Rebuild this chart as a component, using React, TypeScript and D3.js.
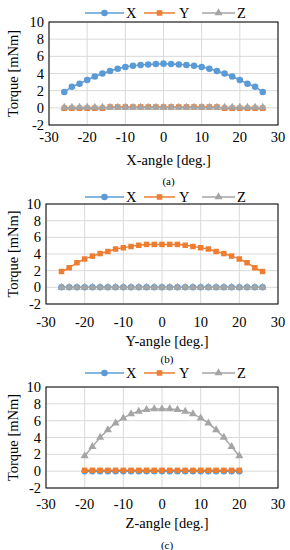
import React, { useEffect, useRef } from 'react'
import * as d3 from 'd3'

// angles
const anglesAB = d3.range(-26, 27, 2)
const anglesC = d3.range(-20, 21, 2)

// (a) X-angle sweep
const aX = [1.85, 2.45, 2.8, 3.25, 3.65, 4.0, 4.3, 4.55, 4.75, 4.9, 5.0, 5.05, 5.1, 5.15, 5.1, 5.05, 5.0, 4.9, 4.75, 4.55, 4.3, 4.0, 3.65, 3.25, 2.8, 2.45, 1.85]
const aY = [-0.05, -0.05, -0.05, -0.05, -0.05, -0.05, 0.1, 0.1, 0.1, 0.1, 0.1, 0.1, 0.1, 0.1, 0.1, 0.1, 0.1, 0.1, 0.1, 0.1, 0.1, -0.05, -0.05, -0.05, -0.05, -0.05, -0.05]
const aZ = [0.05, 0.05, 0.05, 0.05, 0.05, 0.05, 0.05, 0.05, 0.05, 0.05, 0.05, 0.05, 0.05, 0.05, 0.05, 0.05, 0.05, 0.05, 0.05, 0.05, 0.05, 0.05, 0.05, 0.05, 0.05, 0.05, 0.05]

// (b) Y-angle sweep
const bX = [0, 0, 0, 0, 0, 0, 0, 0, 0, 0, 0, 0, 0, 0, 0, 0, 0, 0, 0, 0, 0, 0, 0, 0, 0, 0, 0]
const bY = [1.9, 2.35, 2.95, 3.4, 3.75, 4.05, 4.3, 4.6, 4.75, 4.9, 5.05, 5.15, 5.15, 5.15, 5.15, 5.15, 5.05, 4.9, 4.75, 4.6, 4.3, 4.05, 3.75, 3.4, 2.95, 2.35, 1.9]
const bZ = [0, 0, 0, 0, 0, 0, 0, 0, 0, 0, 0, 0, 0, 0, 0, 0, 0, 0, 0, 0, 0, 0, 0, 0, 0, 0, 0]

// (c) Z-angle sweep
const cX = [0, 0, 0, 0, 0, 0, 0, 0, 0, 0, 0, 0, 0, 0, 0, 0, 0, 0, 0, 0, 0]
const cY = [0.1, 0.1, 0.1, 0.1, 0.1, 0.1, 0.1, 0.1, 0.1, 0.1, 0.1, 0.1, 0.1, 0.1, 0.1, 0.1, 0.1, 0.1, 0.1, 0.1, 0.1]
const cZ = [1.8, 2.9, 4.0, 4.9, 5.7, 6.3, 6.8, 7.1, 7.3, 7.4, 7.4, 7.4, 7.3, 7.1, 6.8, 6.3, 5.7, 4.9, 4.0, 2.9, 1.8]

const seriesNames = ['X', 'Y', 'Z']
const xTicks = [-30, -20, -10, 0, 10, 20, 30]
const yTicks = [-2, 0, 2, 4, 6, 8, 10]

const colors = ['#5B9BD5', '#ED7D31', '#A5A5A5']
const symbols = [d3.symbolCircle, d3.symbolSquare, d3.symbolTriangle]
const symSizes = [34, 30, 28]
const font = '"Liberation Serif", "Times New Roman", serif'
const fs = 14.5

const panels = [
  { angles: anglesAB, series: [aX, aY, aZ], title: 'X-angle [deg.]', cap: '(a)',
    top: 22, bottom: 125, left: 49, right: 278, legendY: 13, tickY: 137, titleY: 160, capY: 181 },
  { angles: anglesAB, series: [bX, bY, bZ], title: 'Y-angle [deg.]', cap: '(b)',
    top: 204, bottom: 304, left: 46, right: 278, legendY: 197, tickY: 322, titleY: 341, capY: 359 },
  { angles: anglesC, series: [cX, cY, cZ], title: 'Z-angle [deg.]', cap: '(c)',
    top: 387, bottom: 488, left: 46, right: 278, legendY: 373, tickY: 504, titleY: 523, capY: 545 },
]

export default function App() {
  const ref = useRef<SVGSVGElement>(null)

  useEffect(() => {
    const svg = d3.select(ref.current)
    svg.selectAll('*').remove()

    panels.forEach(p => {
      const x = d3.scaleLinear().domain([-30, 30]).range([p.left, p.right])
      const y = d3.scaleLinear().domain([-2, 10]).range([p.bottom, p.top])
      const g = svg.append('g')

      // grid
      g.selectAll('.hg').data(yTicks).enter().append('line')
        .attr('x1', p.left).attr('x2', p.right)
        .attr('y1', d => y(d)).attr('y2', d => y(d))
        .attr('stroke', '#D9D9D9').attr('stroke-width', 1)
      g.selectAll('.vg').data(xTicks).enter().append('line')
        .attr('y1', p.top).attr('y2', p.bottom)
        .attr('x1', d => x(d)).attr('x2', d => x(d))
        .attr('stroke', '#D9D9D9').attr('stroke-width', 1)

      g.append('rect')
        .attr('x', p.left).attr('y', p.top)
        .attr('width', p.right - p.left).attr('height', p.bottom - p.top)
        .attr('fill', 'none').attr('stroke', '#000').attr('stroke-width', 1)

      // tick labels
      g.selectAll('.yt').data(yTicks).enter().append('text')
        .attr('x', p.left - 5).attr('y', d => y(d)).attr('dy', '0.35em')
        .attr('text-anchor', 'end').attr('font-family', font).attr('font-size', fs)
        .text(d => d)
      g.selectAll('.xt').data(xTicks).enter().append('text')
        .attr('x', d => x(d)).attr('y', p.tickY).attr('dy', '0.35em')
        .attr('text-anchor', 'middle').attr('font-family', font).attr('font-size', fs)
        .text(d => d)

      g.append('text')
        .attr('x', (p.left + p.right) / 2 + 5).attr('y', p.titleY).attr('dy', '0.35em')
        .attr('text-anchor', 'middle').attr('font-family', font).attr('font-size', fs)
        .text(p.title)
      g.append('text')
        .attr('x', (p.left + p.right) / 2 + 5).attr('y', p.capY).attr('dy', '0.35em')
        .attr('text-anchor', 'middle').attr('font-family', font).attr('font-size', 11)
        .text(p.cap)
      g.append('text')
        .attr('transform', 'translate(13,' + (p.top + p.bottom) / 2 + ') rotate(-90)')
        .attr('dy', '0.35em')
        .attr('text-anchor', 'middle').attr('font-family', font).attr('font-size', fs)
        .text('Torque [mNm]')

      // series
      const line = d3.line<number>()
        .x((d, i) => x(p.angles[i]))
        .y(d => y(d))
        .curve(d3.curveMonotoneX)
      p.series.forEach((s, k) => {
        g.append('path').datum(s)
          .attr('d', line).attr('fill', 'none')
          .attr('stroke', colors[k]).attr('stroke-width', 1.5)
        g.selectAll('.m' + k).data(s).enter().append('path')
          .attr('d', d3.symbol().type(symbols[k]).size(symSizes[k])())
          .attr('transform', (d, i) => 'translate(' + x(p.angles[i]) + ',' + y(d) + ')')
          .attr('fill', colors[k])
      })

      // legend
      const legX = [[85, 124, 126], [144, 175, 179], [202, 235, 237]]
      seriesNames.forEach((n, k) => {
        const [x1, x2, tx] = legX[k]
        g.append('line').attr('x1', x1).attr('x2', x2)
          .attr('y1', p.legendY).attr('y2', p.legendY)
          .attr('stroke', colors[k]).attr('stroke-width', 1.5)
        g.append('path')
          .attr('d', d3.symbol().type(symbols[k]).size(symSizes[k])())
          .attr('transform', 'translate(' + (x1 + x2) / 2 + ',' + p.legendY + ')')
          .attr('fill', colors[k])
        g.append('text').attr('x', tx).attr('y', p.legendY).attr('dy', '0.35em')
          .attr('font-family', font).attr('font-size', fs)
          .text(n)
      })
    })
  }, [])

  return (
    <svg ref={ref} width={290} height={550}
      style={{ position: 'absolute', left: 0, top: 0, background: '#fff' }} />
  )
}
